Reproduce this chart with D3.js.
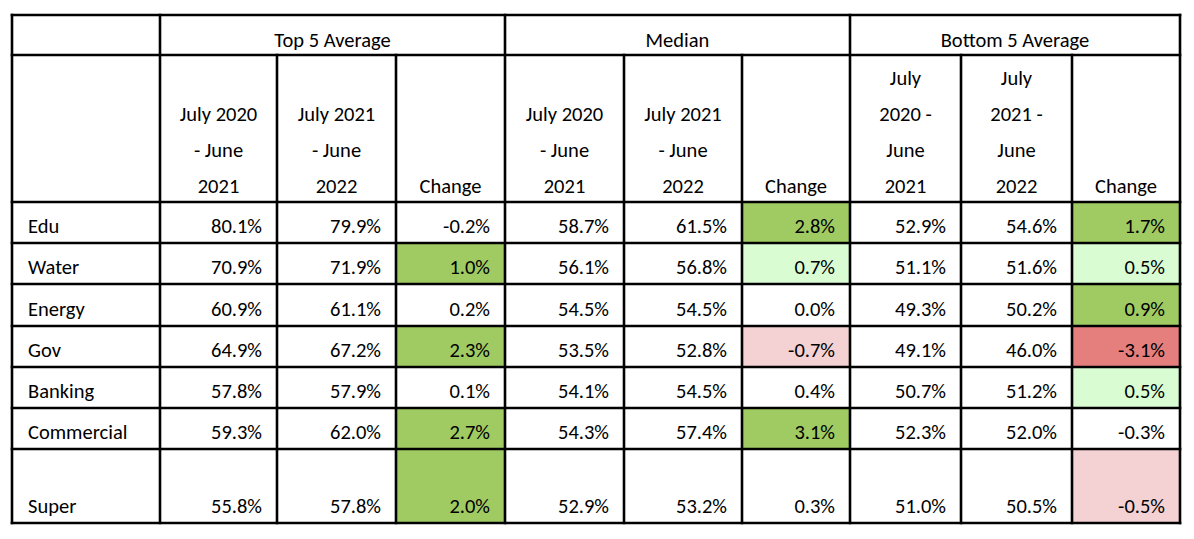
<!DOCTYPE html>
<html>
<head>
<meta charset="utf-8">
<script src="https://cdn.jsdelivr.net/npm/d3@7"></script>
<style>
  body { margin: 0; background: #fff; }
  svg text { font-family: Carlito, Calibri, Lato, sans-serif; font-size: 20.5px; fill: #000; }
</style>
</head>
<body>
<svg id="chart" width="1194" height="539"></svg>
<script>
// data
var sectors = ["Edu", "Water", "Energy", "Gov", "Banking", "Commercial", "Super"];
var groups = ["Top 5 Average", "Median", "Bottom 5 Average"];

var top5Prev   = [80.1, 70.9, 60.9, 64.9, 57.8, 59.3, 55.8];
var top5Curr   = [79.9, 71.9, 61.1, 67.2, 57.9, 62.0, 57.8];
var top5Change = [-0.2, 1.0, 0.2, 2.3, 0.1, 2.7, 2.0];

var medPrev    = [58.7, 56.1, 54.5, 53.5, 54.1, 54.3, 52.9];
var medCurr    = [61.5, 56.8, 54.5, 52.8, 54.5, 57.4, 53.2];
var medChange  = [2.8, 0.7, 0.0, -0.7, 0.4, 3.1, 0.3];

var botPrev    = [52.9, 51.1, 49.3, 49.1, 50.7, 52.3, 51.0];
var botCurr    = [54.6, 51.6, 50.2, 46.0, 51.2, 52.0, 50.5];
var botChange  = [1.7, 0.5, 0.9, -3.1, 0.5, -0.3, -0.5];

// highlight class of each "Change" cell
var top5Mark = ["", "up", "", "up", "", "up", "up"];
var medMark  = ["up", "upLight", "", "downLight", "", "up", ""];
var botMark  = ["up", "upLight", "up", "down", "upLight", "", "downLight"];

var subHeadA = ["July 2020", "- June", "2021"];
var subHeadB = ["July 2021", "- June", "2022"];
var subHeadC = ["July", "2020 -", "June", "2021"];
var subHeadD = ["July", "2021 -", "June", "2022"];
var changeHead = ["Change"];

// layout
var colWidths = [148, 117, 119, 109, 119, 118, 108, 111, 111, 108];
var rowHeights = [40, 147, 41, 41, 42, 41, 41, 41, 74];
var x0 = 12, y0 = 15;

var colEdges = [x0];
colWidths.forEach(function(w, i){ colEdges.push(colEdges[i] + w); });
var rowEdges = [y0];
rowHeights.forEach(function(h, i){ rowEdges.push(rowEdges[i] + h); });

var xEdge = d3.scaleOrdinal().domain(d3.range(colEdges.length)).range(colEdges);
var yEdge = d3.scaleOrdinal().domain(d3.range(rowEdges.length)).range(rowEdges);

var fillColor = d3.scaleOrdinal()
    .domain(["", "up", "upLight", "down", "downLight"])
    .range(["#ffffff", "#a0cb63", "#d9fcd3", "#e47f7e", "#f4d1d3"]);

var fmt = function(v){ return v.toFixed(1) + "%"; };

var svg = d3.select("#chart");

// body cells
var columns = [
  {vals: top5Prev}, {vals: top5Curr}, {vals: top5Change, mark: top5Mark},
  {vals: medPrev}, {vals: medCurr}, {vals: medChange, mark: medMark},
  {vals: botPrev}, {vals: botCurr}, {vals: botChange, mark: botMark}
];

var cells = [];
columns.forEach(function(c, ci){
  c.vals.forEach(function(v, ri){
    cells.push({col: ci + 1, row: ri + 2, value: v, mark: c.mark ? c.mark[ri] : ""});
  });
});

svg.selectAll("rect.cell").data(cells).enter().append("rect")
  .attr("class", "cell")
  .attr("x", function(d){ return xEdge(d.col); })
  .attr("y", function(d){ return yEdge(d.row); })
  .attr("width", function(d){ return xEdge(d.col + 1) - xEdge(d.col); })
  .attr("height", function(d){ return yEdge(d.row + 1) - yEdge(d.row); })
  .attr("fill", function(d){ return fillColor(d.mark); });

svg.selectAll("text.val").data(cells).enter().append("text")
  .attr("class", "val")
  .attr("text-anchor", "end")
  .attr("x", function(d){ return xEdge(d.col + 1) - 15; })
  .attr("y", function(d){ return yEdge(d.row + 1) - 10; })
  .text(function(d){ return fmt(d.value); });

svg.selectAll("text.sector").data(sectors).enter().append("text")
  .attr("class", "sector")
  .attr("x", xEdge(0) + 16)
  .attr("y", function(d, i){ return yEdge(i + 3) - 10; })
  .text(function(d){ return d; });

// group headers
svg.selectAll("text.group").data(groups).enter().append("text")
  .attr("class", "group")
  .attr("text-anchor", "middle")
  .attr("x", function(d, i){ return (xEdge(1 + i * 3) + xEdge(4 + i * 3)) / 2; })
  .attr("y", yEdge(1) - 8)
  .text(function(d){ return d; });

// sub headers
var subHeads = [subHeadA, subHeadB, changeHead, subHeadA, subHeadB, changeHead, subHeadC, subHeadD, changeHead];
var sub = svg.selectAll("text.sub").data(subHeads).enter().append("text")
  .attr("class", "sub")
  .attr("text-anchor", "middle")
  .attr("x", function(d, i){ return (xEdge(i + 1) + xEdge(i + 2)) / 2; });
sub.selectAll("tspan").data(function(d){ return d; }).enter().append("tspan")
  .attr("x", function(){ return d3.select(this.parentNode).attr("x"); })
  .attr("y", function(d, i, nodes){ return yEdge(2) - 9 - (nodes.length - 1 - i) * 36; })
  .text(function(d){ return d; });

// grid lines
var lw = 2.6;
var g = svg.append("g").attr("stroke", "#000").attr("stroke-width", lw).attr("stroke-linecap", "square");

// horizontal lines
g.selectAll("line.h").data(d3.range(rowEdges.length)).enter().append("line")
  .attr("x1", xEdge(0)).attr("x2", xEdge(colEdges.length - 1))
  .attr("y1", function(d){ return yEdge(d); }).attr("y2", function(d){ return yEdge(d); });

// vertical lines (sub-columns don't cross the group header row)
g.selectAll("line.v").data(d3.range(colEdges.length)).enter().append("line")
  .attr("x1", function(d){ return xEdge(d); }).attr("x2", function(d){ return xEdge(d); })
  .attr("y1", function(d){ return (d === 0 || (d - 1) % 3 === 0) ? yEdge(0) : yEdge(1); })
  .attr("y2", yEdge(rowEdges.length - 1));
</script>
</body>
</html>
